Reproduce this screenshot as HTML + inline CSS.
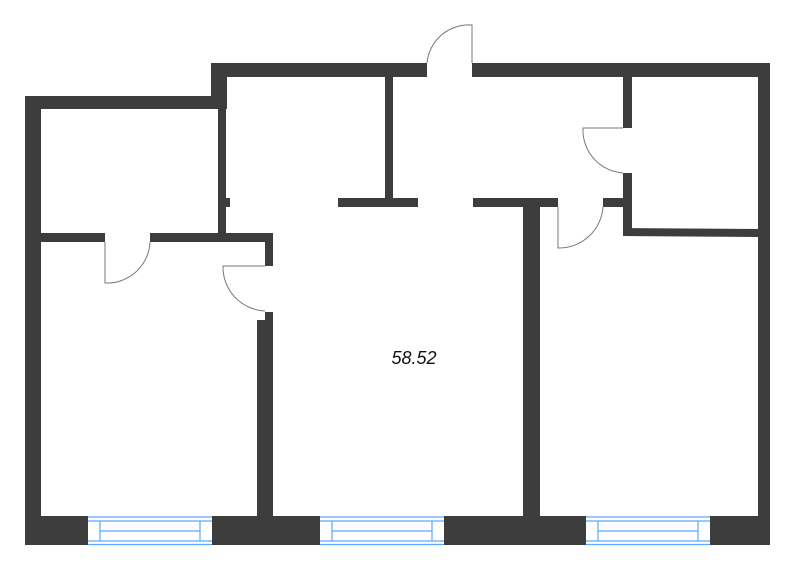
<!DOCTYPE html>
<html><head><style>body{margin:0;background:#fff}</style></head><body>
<svg width="800" height="570" xmlns="http://www.w3.org/2000/svg">
<g fill="#3d3d3d">
<rect x="25" y="96" width="201" height="13"/>
<rect x="25" y="96" width="16" height="449"/>
<rect x="211" y="63" width="16" height="46"/>
<rect x="211" y="63" width="216" height="14"/>
<rect x="472" y="63" width="298" height="14"/>
<rect x="758" y="63" width="12" height="482"/>
<rect x="218" y="77" width="8" height="165"/>
<rect x="226" y="198" width="4" height="9"/>
<rect x="41" y="233" width="64" height="9"/>
<rect x="150" y="233" width="123" height="9"/>
<rect x="265" y="242" width="8" height="24"/>
<rect x="265" y="312" width="8" height="8"/>
<rect x="257" y="320" width="16" height="200"/>
<rect x="385" y="77" width="8" height="126"/>
<rect x="338" y="198" width="80" height="9"/>
<rect x="473" y="198" width="85" height="9"/>
<rect x="603" y="198" width="29" height="9"/>
<rect x="523" y="207" width="17" height="313"/>
<rect x="623" y="77" width="9" height="51"/>
<rect x="623" y="173" width="9" height="63"/>
<polygon points="623,228 758,229 758,237 623,236"/>
<rect x="25" y="516" width="63" height="29"/>
<rect x="212" y="516" width="108" height="29"/>
<rect x="444" y="516" width="142" height="29"/>
<rect x="710" y="516" width="60" height="29"/>
</g>
<g stroke="#5aa8ff" stroke-width="1.2" fill="none">
<g id="w"><line x1="88" y1="517" x2="212" y2="517"/><line x1="88" y1="521" x2="212" y2="521"/><line x1="100" y1="531" x2="200" y2="531"/><line x1="88" y1="541" x2="212" y2="541"/><line x1="88" y1="544.5" x2="212" y2="544.5"/><line x1="100" y1="521" x2="100" y2="541"/><line x1="200" y1="521" x2="200" y2="541"/></g>
<use href="#w" x="232"/>
<use href="#w" x="498"/>
</g>
<g stroke="#777" stroke-width="1" fill="none">
<path d="M105,242 V283 A43,43 0 0 0 150,242"/>
<path d="M265,266 H223 A44,44 0 0 0 265,311"/>
<path d="M472,63 V25 A42,42 0 0 0 427,63"/>
<path d="M623,128 H583 A43,43 0 0 0 623,173"/>
<path d="M558,207 V248 A44,44 0 0 0 603,207"/>
</g>
<text x="414" y="364" font-family="Liberation Sans, sans-serif" font-style="italic" font-size="18" text-anchor="middle" fill="#111">58.52</text>
</svg>
</body></html>
